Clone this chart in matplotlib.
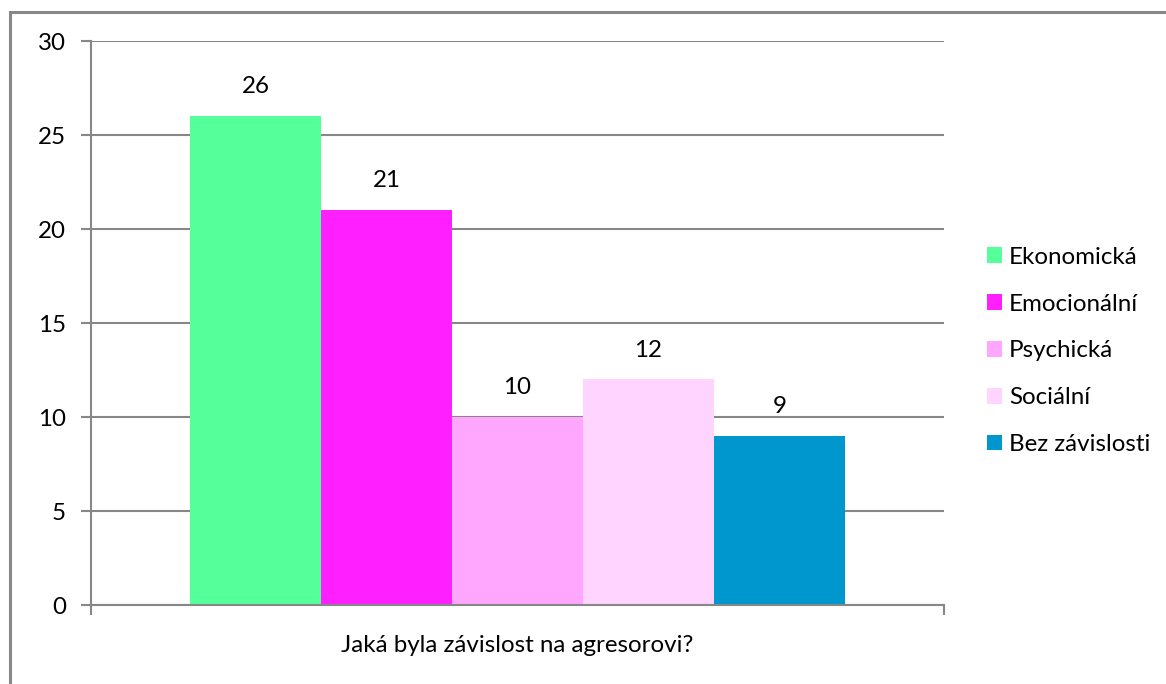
import matplotlib.pyplot as plt
from matplotlib.patches import Rectangle

plt.rcParams['font.family'] = ['Lato', 'DejaVu Sans']

categories = ['Ekonomická', 'Emocionální', 'Psychická', 'Sociální', 'Bez závislosti']
values = [26, 21, 10, 12, 9]
colors = ['#55FF9A', '#FF1FFF', '#FFA6FF', '#FFD4FF', '#0096CE']
xlabel = 'Jaká byla závislost na agresorovi?'

fs = 17.4

fig = plt.figure(figsize=(11.66, 6.84), dpi=100)
fig.patches.append(Rectangle((10 / 1166, -0.1), 1.2, 0.1 + (684 - 12) / 684,
                             transform=fig.transFigure, fill=False,
                             edgecolor='#878787', linewidth=2.2))

ax = fig.add_axes([91 / 1166, 79 / 684, 853 / 1166, 564 / 684])
x = list(range(len(values)))
bars = ax.bar(x, values, width=1.0, color=colors, label=categories, zorder=2)
for xi, v in zip(x, values):
    ax.text(xi, v + 1.0, str(v), ha='center', va='bottom', fontsize=fs)

ax.set_ylim(0, 30)
ax.set_yticks(range(0, 31, 5))
ax.set_xlim(-0.5 - 0.755, 4.5 + 0.755)
ax.set_xticks([-0.5 - 0.755, 4.5 + 0.755])
ax.set_xticklabels(['', ''])
ax.yaxis.grid(True, color='#878787', linewidth=1.5, zorder=1)
ax.set_axisbelow(True)
for s in ['top', 'right']:
    ax.spines[s].set_visible(False)
for s in ['left', 'bottom']:
    ax.spines[s].set_color('#878787')
    ax.spines[s].set_linewidth(1.5)
ax.tick_params(axis='both', colors='#878787', length=7, width=1.5)
ax.tick_params(axis='y', labelcolor='black', labelsize=fs, pad=11)
ax.set_xlabel(xlabel, fontsize=fs, labelpad=11)

fig.legend(handles=bars, labels=categories, loc='upper left',
           bbox_to_anchor=(977 / 1166, 1 - 237 / 684), frameon=False,
           fontsize=fs, labelspacing=1.07, handlelength=0.62,
           handleheight=0.62, handletextpad=0.3, borderaxespad=0)

fig.savefig('out.png', dpi=100)
